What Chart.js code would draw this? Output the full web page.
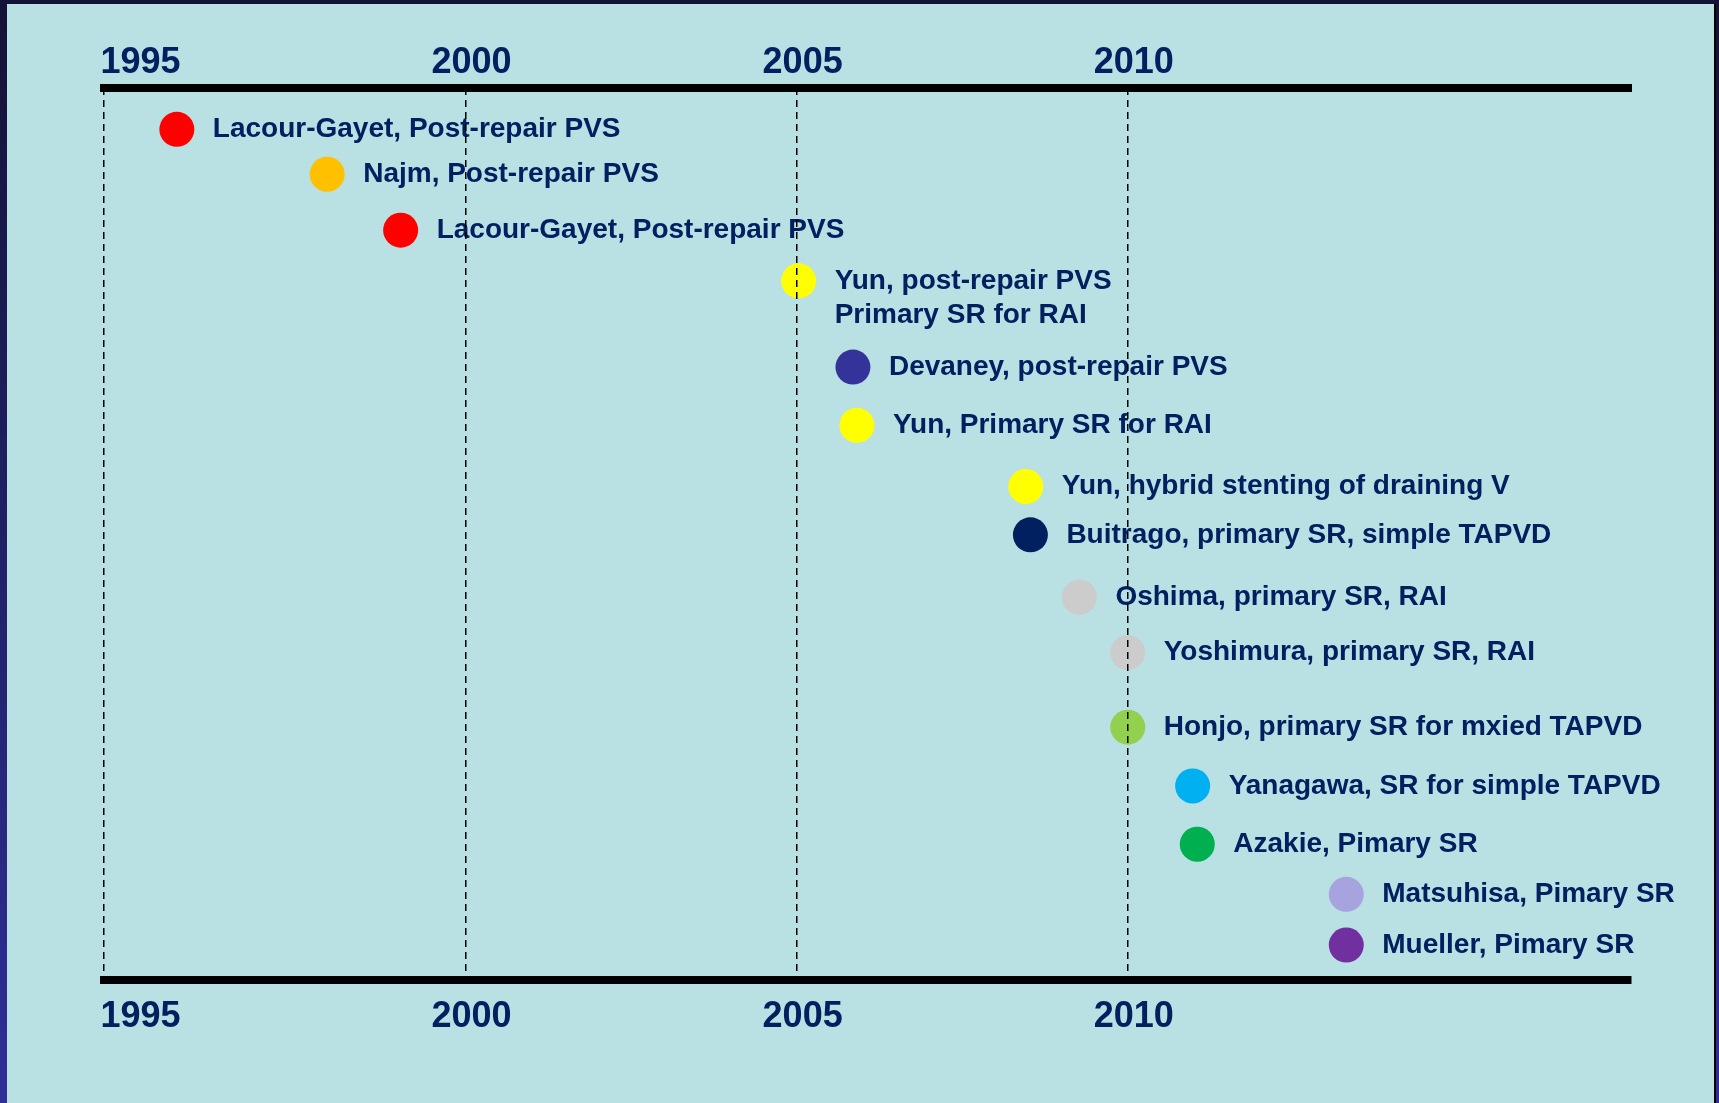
<!DOCTYPE html>
<html>
<head>
<meta charset="utf-8">
<title>Surgical repair timeline</title>
<script src="https://cdn.jsdelivr.net/npm/chart.js@4.4.1/dist/chart.umd.min.js"></script>
<style>
  html,body{margin:0;padding:0;background:#15133a;}
  canvas{display:block;}
</style>
</head>
<body>
<canvas id="timeline" width="1719" height="1103"></canvas>
<script>
/* values */
var tickYears = [1995, 2000, 2005, 2010];

var studyLabels = [
  ['Lacour-Gayet, Post-repair PVS'],
  ['Najm, Post-repair PVS'],
  ['Lacour-Gayet, Post-repair PVS'],
  ['Yun, post-repair PVS', 'Primary SR for RAI'],
  ['Devaney, post-repair PVS'],
  ['Yun, Primary SR for RAI'],
  ['Yun, hybrid stenting of draining V'],
  ['Buitrago, primary SR, simple TAPVD'],
  ['Oshima, primary SR, RAI'],
  ['Yoshimura, primary SR, RAI'],
  ['Honjo, primary SR for mxied TAPVD'],
  ['Yanagawa, SR for simple TAPVD'],
  ['Azakie, Pimary SR'],
  ['Matsuhisa, Pimary SR'],
  ['Mueller, Pimary SR']
];

// year of each report (x)
var studyYears = [1995.64, 1997.91, 1999.02, 2005.03, 2005.85, 2005.91, 2008.46, 2008.53,
                  2009.27, 2010.0, 2010.0, 2010.98, 2011.05, 2013.3, 2013.3];

// vertical slot of each report (1 = top row)
var studyRows = [1, 1.77, 2.73, 3.6, 5.08, 6.08, 7.13, 7.96, 9.03, 9.98, 11.26, 12.27, 13.27, 14.13, 15];

var dotColors = ['#ff0000', '#ffc000', '#ff0000', '#ffff00', '#333399', '#ffff00', '#ffff00', '#002060',
                 '#cccccc', '#cccccc', '#92d050', '#00b0f0', '#00b050', '#a6a3de', '#7030a0'];

var X_MIN = 1994.54, X_MAX = 2017.6;
var ROW_MIN = 0.29, ROW_MAX = 15.6;

var FONT = '"Liberation Sans", Arial, sans-serif';
var NAVY = '#002060';

var framePlugin = {
  id:'frame',
  beforeDraw:function(chart){
    var c = chart.ctx, w = chart.width, h = chart.height;
    c.save();
    var g = c.createLinearGradient(0,0,0,h);
    g.addColorStop(0,'#141236');
    g.addColorStop(1,'#2f2f98');
    c.fillStyle = g;
    c.fillRect(0,0,w,h);
    c.fillStyle = '#b9e0e3';
    c.fillRect(7,4,w-12,h-4);
    c.fillStyle = '#000';
    c.fillRect(w-5,4,2,h-4);
    c.restore();
  }
};

var labelPlugin = {
  id:'studyLabels',
  afterDatasetsDraw:function(chart){
    var c = chart.ctx;
    var pts = chart.getDatasetMeta(0).data;
    c.save();
    c.font = 'bold 28px ' + FONT;
    c.fillStyle = NAVY;
    c.textBaseline = 'middle';
    c.textAlign = 'left';
    pts.forEach(function(p,i){
      studyLabels[i].forEach(function(line,j){
        c.fillText(line, p.x + 36, p.y + j*34);
      });
    });
    c.restore();
  }
};

function yearTicks(scale){
  scale.ticks = [X_MIN].concat(tickYears).map(function(v){return {value:v};});
}
function yearLabel(v){
  return tickYears.indexOf(v) >= 0 ? String(v) : '';
}

var points = studyYears.map(function(yr,i){ return {x:yr, y:studyRows[i]}; });

new Chart(document.getElementById('timeline'), {
  type:'scatter',
  data:{
    datasets:[{
      data:points,
      pointRadius:17.5,
      pointHoverRadius:17.5,
      pointBorderWidth:0,
      pointBackgroundColor:dotColors,
      pointBorderColor:dotColors
    }]
  },
  options:{
    responsive:false,
    animation:false,
    devicePixelRatio:1,
    layout:{padding:{left:104, right:88, top:0, bottom:0}},
    plugins:{legend:{display:false}, tooltip:{enabled:false}},
    scales:{
      x:{
        type:'linear', position:'bottom', min:X_MIN, max:X_MAX,
        afterBuildTicks:yearTicks,
        afterFit:function(s){ s.height = 123; },
        grid:{
          z:1, drawTicks:false, lineWidth:1.5,
          color:function(ctx){ return ctx.tick && ctx.tick.value === 1995 ? 'rgba(0,0,0,0)' : '#000'; }
        },
        // grid sits above the dots, so the border must come after it
        border:{display:true, z:2, width:8, color:'#000', dash:[7,5]},
        ticks:{autoSkip:false, maxRotation:0, padding:15, labelOffset:6, color:NAVY,
               font:{family:FONT, size:36, weight:'bold'}, callback:yearLabel}
      },
      xTop:{
        axis:'x', type:'linear', position:'top', min:X_MIN, max:X_MAX,
        afterBuildTicks:yearTicks,
        afterFit:function(s){ s.height = 88; },
        grid:{drawTicks:false, color:'rgba(0,0,0,0)'},
        border:{display:true, width:8, color:'#000'},
        ticks:{autoSkip:false, maxRotation:0, padding:3, labelOffset:6, color:NAVY,
               font:{family:FONT, size:36, weight:'bold'}, callback:yearLabel}
      },
      y:{type:'linear', reverse:true, min:ROW_MIN, max:ROW_MAX, display:false}
    }
  },
  plugins:[framePlugin, labelPlugin]
});
</script>
</body>
</html>
